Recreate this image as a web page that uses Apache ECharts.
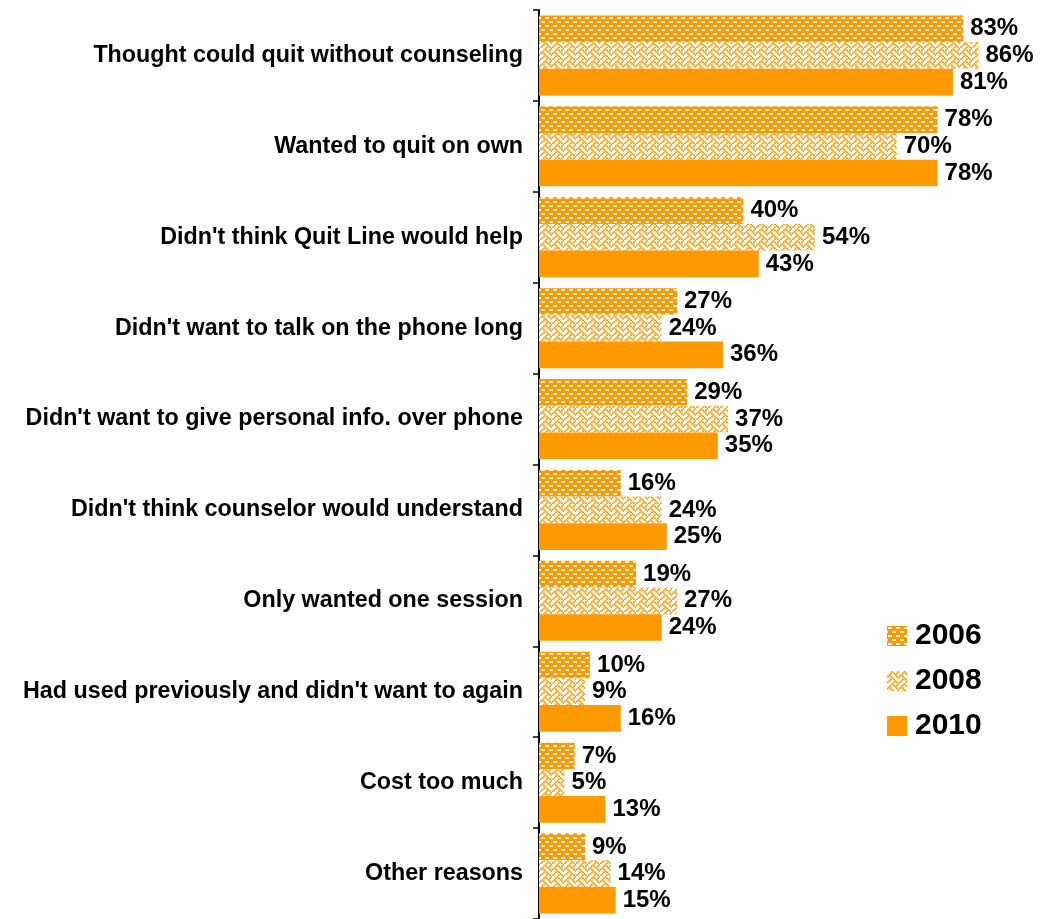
<!DOCTYPE html>
<html>
<head>
<meta charset="utf-8">
<script src="https://cdn.jsdelivr.net/npm/echarts@6/dist/echarts.min.js"></script>
<style>
html,body{margin:0;padding:0;background:#fff;}
#chart{width:1054px;height:919px;}
</style>
</head>
<body>
<div id="chart"></div>
<script>
const categories = [
  "Thought could quit without counseling",
  "Wanted to quit on own",
  "Didn't think Quit Line would help",
  "Didn't want to talk on the phone long",
  "Didn't want to give personal info. over phone",
  "Didn't think counselor would understand",
  "Only wanted one session",
  "Had used previously and didn't want to again",
  "Cost too much",
  "Other reasons"
];
const seriesNames = ["2006", "2008", "2010"];
const values2006 = [83, 78, 40, 27, 29, 16, 19, 10, 7, 9];
const values2008 = [86, 70, 54, 24, 37, 24, 27, 9, 5, 14];
const values2010 = [81, 78, 43, 36, 35, 25, 24, 16, 13, 15];

const ORANGE = '#FF9900';

function makeDashPattern() {
  const c = document.createElement('canvas');
  c.width = 8; c.height = 8;
  const ctx = c.getContext('2d');
  ctx.fillStyle = ORANGE;
  ctx.fillRect(0, 0, 8, 8);
  ctx.fillStyle = '#FFF3E0';
  ctx.fillRect(1, 1, 4, 2);
  ctx.fillRect(5, 5, 3, 2);
  ctx.fillRect(0, 5, 1, 2);
  return c;
}
function makeWeavePattern() {
  const bits = [0x11, 0x2a, 0x44, 0xa2, 0x11, 0x28, 0x44, 0x8a];
  const c = document.createElement('canvas');
  c.width = 12; c.height = 12;
  const ctx = c.getContext('2d');
  ctx.fillStyle = '#FFFFFF';
  ctx.fillRect(0, 0, 12, 12);
  ctx.scale(1.5, 1.5);
  ctx.fillStyle = ORANGE;
  for (let y = 0; y < 8; y++) {
    for (let x = 0; x < 8; x++) {
      if (bits[y] & (0x80 >> x)) ctx.fillRect(x, y, 1.2, 1.2);
    }
  }
  return c;
}

const fills = [
  { image: makeDashPattern(), repeat: 'repeat' },
  { image: makeWeavePattern(), repeat: 'repeat' },
  ORANGE
];
const allValues = [values2006, values2008, values2010];

const chart = echarts.init(document.getElementById('chart'), null, { renderer: 'canvas' });
const FONT = '"Liberation Sans", Arial, sans-serif';

chart.setOption({
  animation: false,
  backgroundColor: '#fff',
  grid: { left: 539, right: 4, top: 10, height: 911, containLabel: false },
  xAxis: {
    type: 'value', min: 0, max: 100,
    show: false
  },
  yAxis: {
    type: 'category',
    inverse: true,
    data: categories,
    axisLine: { show: true, lineStyle: { color: '#000', width: 2 } },
    axisTick: { show: true, length: 6, lineStyle: { color: '#000', width: 1.5 } },
    axisLabel: {
      margin: 16,
      color: '#000',
      fontFamily: FONT,
      fontWeight: 'bold',
      fontSize: 23.3
    },
    splitLine: { show: false }
  },
  legend: {
    orient: 'vertical',
    left: 882,
    top: 616,
    itemWidth: 20,
    itemHeight: 20,
    itemGap: 15,
    icon: 'rect',
    data: seriesNames,
    textStyle: { fontFamily: FONT, fontWeight: 'bold', fontSize: 30, color: '#000', padding: [0, 0, 0, 3] }
  },
  series: seriesNames.map((name, i) => ({
    name: name,
    type: 'bar',
    data: allValues[i],
    barGap: '0%',
    barCategoryGap: '12%',
    itemStyle: { color: fills[i] },
    label: {
      show: true,
      position: 'right',
      distance: 7,
      formatter: '{c}%',
      color: '#000',
      fontFamily: FONT,
      fontWeight: 'bold',
      fontSize: 24
    }
  }))
});
</script>
</body>
</html>
